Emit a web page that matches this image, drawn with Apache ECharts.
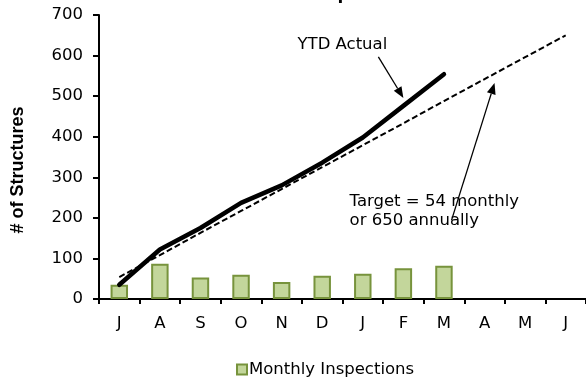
<!DOCTYPE html>
<html>
<head>
<meta charset="utf-8">
<script src="https://cdn.jsdelivr.net/npm/echarts@6/dist/echarts.min.js"></script>
<style>
  html, body { margin: 0; padding: 0; background: #ffffff; }
  #chart { width: 586px; height: 381px; }
</style>
</head>
<body>
<div id="chart"></div>
<script>
// Fiscal-year months (July to June) and their single-letter tick labels
const months = ['Jul', 'Aug', 'Sep', 'Oct', 'Nov', 'Dec', 'Jan', 'Feb', 'Mar', 'Apr', 'May', 'Jun'];
const tickLabels = ['J', 'A', 'S', 'O', 'N', 'D', 'J', 'F', 'M', 'A', 'M', 'J'];

// Structures inspected in each month
const monthlyInspections = [35, 87, 53, 60, 42, 57, 62, 76, 82, null, null, null];

// Running year-to-date total
const ytdActual = [35, 122, 175, 237, 280, 336, 398, 476, 554, null, null, null];

// Cumulative target: 54 per month, 650 for the year
const ytdTarget = [54, 108, 163, 217, 271, 325, 379, 433, 488, 542, 596, 650];

const yTicks = { min: 0, max: 700, interval: 100 };

const FONT = '"DejaVu Sans", Verdana, sans-serif';
const TITLE_FONT = '"Liberation Sans", Arial, sans-serif';
const chart = echarts.init(document.getElementById('chart'));

chart.setOption({
  animation: false,
  textStyle: { fontFamily: FONT },
  grid: { left: 99, right: 0, top: 15, bottom: 82, containLabel: false },
  legend: {
    data: ['Monthly Inspections'],
    left: 236, top: 361, padding: 0,
    icon: 'rect', itemWidth: 10, itemHeight: 10, itemGap: 4,
    textStyle: { fontSize: 16.5, color: '#000', fontFamily: FONT, padding: [0, 0, 0, -3] }
  },
  xAxis: {
    type: 'category',
    data: months,
    boundaryGap: true,
    axisLine: { lineStyle: { color: '#000', width: 2 } },
    axisTick: { show: true, alignWithLabel: false, length: 5, lineStyle: { color: '#000', width: 2 } },
    axisLabel: {
      color: '#000', fontSize: 16.5, margin: 16, fontFamily: FONT,
      formatter: (v, i) => tickLabels[i]
    },
    splitLine: { show: false }
  },
  yAxis: {
    type: 'value',
    min: yTicks.min, max: yTicks.max, interval: yTicks.interval,
    axisLine: { show: true, lineStyle: { color: '#000', width: 2 } },
    axisTick: { show: true, inside: false, length: 6, lineStyle: { color: '#000', width: 2 } },
    axisLabel: { color: '#000', fontSize: 16.5, margin: 16, fontFamily: FONT },
    splitLine: { show: false }
  },
  series: [
    {
      name: 'Monthly Inspections',
      type: 'bar',
      data: monthlyInspections,
      barWidth: '43%',
      itemStyle: { color: '#C3D69B', borderColor: '#77933C', borderWidth: 2 },
      z: 2
    },
    {
      name: 'YTD Target',
      type: 'line',
      data: ytdTarget,
      showSymbol: false,
      lineStyle: { color: '#000', width: 2, type: [6, 3] },
      z: 3
    },
    {
      name: 'YTD Actual',
      type: 'line',
      data: ytdActual,
      showSymbol: false,
      lineStyle: { color: '#000', width: 4.5, cap: 'round', join: 'round' },
      z: 4
    }
  ]
});

// Callout arrows and labels, anchored to points on the two lines
function arrow(x1, y1, x2, y2) {
  const ang = Math.atan2(y2 - y1, x2 - x1);
  const len = 11, half = 4.5;
  const bx = x2 - len * Math.cos(ang), by = y2 - len * Math.sin(ang);
  const nx = -Math.sin(ang) * half, ny = Math.cos(ang) * half;
  return [
    { type: 'line', shape: { x1: x1, y1: y1, x2: bx, y2: by }, style: { stroke: '#000', lineWidth: 1.3 }, z: 10 },
    { type: 'polygon', shape: { points: [[x2, y2], [bx + nx, by + ny], [bx - nx, by - ny]] }, style: { fill: '#000' }, z: 10 }
  ];
}

const ytdTip = chart.convertToPixel({ gridIndex: 0 }, [7, ytdActual[7]]);
const tgtRef = chart.convertToPixel({ gridIndex: 0 }, [9, ytdTarget[9]]);

const ytdArrow = arrow(ytdTip[0] - 25, ytdTip[1] - 49, ytdTip[0], ytdTip[1] - 8);
const tgtArrow = arrow(tgtRef[0] - 33, tgtRef[1] + 141, tgtRef[0] + 10, tgtRef[1] + 4);

chart.setOption({
  graphic: [
    {
      type: 'text', x: 316, y: -17,
      style: { text: 'Structure Inspections', font: 'bold 21px ' + TITLE_FONT, fill: '#000', textAlign: 'center' }
    },
    {
      type: 'text', x: 18, y: 170, rotation: Math.PI / 2,
      style: { text: '# of Structures', font: 'bold 18px ' + TITLE_FONT, fill: '#000', textAlign: 'center', textVerticalAlign: 'middle' }
    },
    {
      type: 'text', x: ytdTip[0] - 61, y: ytdTip[1] - 61,
      style: { text: 'YTD Actual', font: '16.5px ' + FONT, fill: '#000', textAlign: 'center', textVerticalAlign: 'middle' }
    },
    {
      type: 'text', x: tgtRef[0] - 135, y: tgtRef[1] + 113,
      style: { text: 'Target = 54 monthly\nor 650 annually', font: '16.5px ' + FONT, lineHeight: 19, fill: '#000', textAlign: 'left', textVerticalAlign: 'top' }
    }
  ].concat(ytdArrow, tgtArrow)
});
</script>
</body>
</html>
